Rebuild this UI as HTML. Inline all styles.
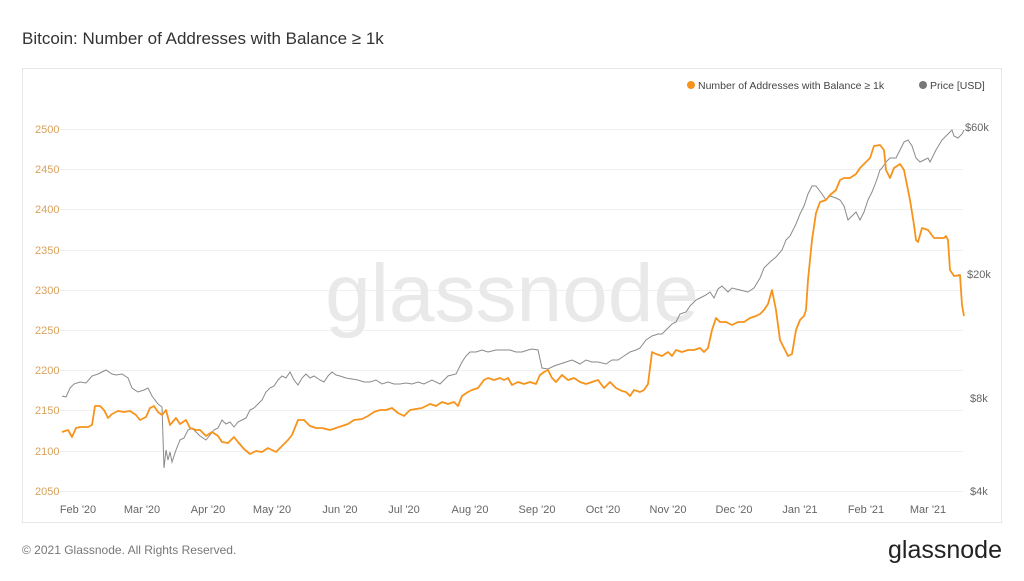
<!DOCTYPE html>
<html><head><meta charset="utf-8"><style>
body{margin:0;width:1024px;height:576px;background:#fff;font-family:"Liberation Sans",sans-serif;overflow:hidden}
</style></head><body>
<svg width="1024" height="576" xmlns="http://www.w3.org/2000/svg" font-family="Liberation Sans, sans-serif">
<text x="22" y="44" font-size="17" fill="#333">Bitcoin: Number of Addresses with Balance ≥ 1k</text>
<rect x="22.5" y="68.5" width="979" height="454" fill="#fff" stroke="#e6e6e6"/>
<g stroke="#f0f0f0" stroke-width="1">
<line x1="60" x2="963" y1="129.5" y2="129.5"/><line x1="60" x2="963" y1="169.5" y2="169.5"/><line x1="60" x2="963" y1="209.5" y2="209.5"/><line x1="60" x2="963" y1="250.5" y2="250.5"/><line x1="60" x2="963" y1="290.5" y2="290.5"/><line x1="60" x2="963" y1="330.5" y2="330.5"/><line x1="60" x2="963" y1="370.5" y2="370.5"/><line x1="60" x2="963" y1="410.5" y2="410.5"/><line x1="60" x2="963" y1="451.5" y2="451.5"/><line x1="60" x2="963" y1="491.5" y2="491.5"/>
</g>
<text x="512" y="321" font-size="82" fill="#e9e9e9" text-anchor="middle">glassnode</text>
<g font-size="11" fill="#d9a25c">
<text x="35" y="133">2500</text><text x="35" y="173">2450</text><text x="35" y="213">2400</text><text x="35" y="254">2350</text><text x="35" y="294">2300</text><text x="35" y="334">2250</text><text x="35" y="374">2200</text><text x="35" y="414">2150</text><text x="35" y="455">2100</text><text x="35" y="495">2050</text>
</g>
<g font-size="11" fill="#666">
<text x="965" y="131">$60k</text><text x="967" y="278">$20k</text><text x="970" y="402">$8k</text><text x="970" y="495">$4k</text>
</g>
<g font-size="11" fill="#666" text-anchor="middle">
<text x="78" y="513">Feb '20</text><text x="142" y="513">Mar '20</text><text x="208" y="513">Apr '20</text><text x="272" y="513">May '20</text><text x="340" y="513">Jun '20</text><text x="404" y="513">Jul '20</text><text x="470" y="513">Aug '20</text><text x="537" y="513">Sep '20</text><text x="603" y="513">Oct '20</text><text x="668" y="513">Nov '20</text><text x="734" y="513">Dec '20</text><text x="800" y="513">Jan '21</text><text x="866" y="513">Feb '21</text><text x="928" y="513">Mar '21</text>
</g>
<circle cx="691" cy="85" r="4" fill="#f7931a"/>
<text x="698" y="89" font-size="10.5" fill="#444">Number of Addresses with Balance ≥ 1k</text>
<circle cx="923" cy="85" r="4" fill="#777"/>
<text x="930" y="89" font-size="10.5" fill="#444">Price [USD]</text>
<polyline fill="none" stroke="#8a8a8a" stroke-width="1" points="62,396 66,397 70,388 74,384 80,382 86,383 92,376 98,374 102,372 106,370 112,374 116,375 122,374 128,378 132,388 138,392 144,390 148,388 152,396 158,404 162,407 164,468 166,450 168,460 170,452 172,462 176,450 180,440 184,438 188,430 192,428 196,432 200,436 206,440 210,435 214,430 218,428 222,420 226,424 230,422 234,427 238,422 242,420 246,418 250,410 254,408 258,404 262,400 266,392 270,388 274,386 278,380 282,376 286,378 290,372 294,380 298,385 302,378 306,374 310,378 314,376 320,380 324,382 328,376 332,372 336,375 340,376 346,378 352,379 358,380 364,382 370,382 376,380 382,384 388,382 394,384 400,384 406,383 412,384 418,382 424,384 432,380 440,384 448,376 456,374 462,362 466,356 470,352 476,352 482,350 488,352 496,350 504,350 510,350 516,352 522,352 528,350 532,349 538,350 542,368 548,369 554,366 560,364 566,362 572,360 576,362 580,364 586,360 592,362 598,362 606,364 612,360 618,360 624,356 630,352 636,350 640,348 646,340 652,336 658,334 662,334 668,328 672,324 676,322 680,314 686,312 690,306 696,300 700,298 706,295 710,292 714,298 718,289 722,286 728,292 732,288 740,290 748,292 754,288 760,278 764,268 770,262 776,257 782,250 786,240 790,236 796,224 800,214 804,206 808,194 812,186 816,186 822,194 826,200 830,196 836,198 840,200 844,206 848,220 852,216 856,212 860,220 864,212 868,200 872,192 876,182 880,170 882,168 886,162 890,158 896,158 900,150 904,142 908,140 912,146 916,158 920,162 924,160 928,158 930,162 936,150 942,140 948,134 952,130 954,136 958,138 962,134 964,130"/>
<polyline fill="none" stroke="#f7931a" stroke-width="1.8" stroke-linejoin="round" points="62,432 68,430 72,437 76,428 80,427 88,427 92,425 95,406 100,406 104,410 108,418 112,414 118,411 124,412 130,411 136,415 140,420 146,417 150,408 154,406 158,412 162,415 166,410 170,425 176,418 180,424 186,420 190,428 196,430 200,430 206,436 212,432 218,436 222,442 228,443 234,437 238,442 244,449 250,454 256,451 262,452 268,448 272,450 276,452 282,446 288,440 292,435 298,420 304,420 310,426 316,428 322,428 330,430 336,428 342,426 348,424 354,420 362,419 368,416 374,412 380,410 386,410 392,408 398,413 404,416 410,410 416,409 422,408 430,404 436,406 442,402 448,404 454,402 458,406 462,396 468,392 472,390 478,388 484,380 488,378 494,380 500,378 504,380 508,378 512,385 518,382 524,384 530,382 536,384 540,375 544,372 548,370 552,378 556,382 562,375 568,380 574,378 580,382 586,384 592,382 598,380 604,388 610,382 616,388 622,391 626,392 630,396 634,390 640,392 644,390 648,384 652,352 656,354 662,356 668,352 672,356 676,350 682,352 688,350 694,350 700,348 704,352 708,348 712,330 716,318 720,322 726,322 732,325 738,322 744,322 750,318 756,316 760,314 764,310 768,304 772,290 776,310 780,340 784,348 788,356 792,354 796,330 800,320 804,316 806,310 808,280 812,240 816,213 820,202 826,200 830,195 836,190 840,180 844,178 850,178 856,174 860,168 866,162 870,158 874,146 880,145 884,150 886,170 890,178 894,168 900,164 904,170 906,180 910,200 914,225 916,240 918,242 922,228 928,230 934,238 940,238 944,238 946,236 948,240 950,270 954,276 960,275 962,305 964,316"/>
<text x="22" y="554" font-size="12" fill="#777">© 2021 Glassnode. All Rights Reserved.</text>
<text x="1002" y="558" font-size="25" fill="#222" text-anchor="end">glassnode</text>
</svg>
</body></html>
